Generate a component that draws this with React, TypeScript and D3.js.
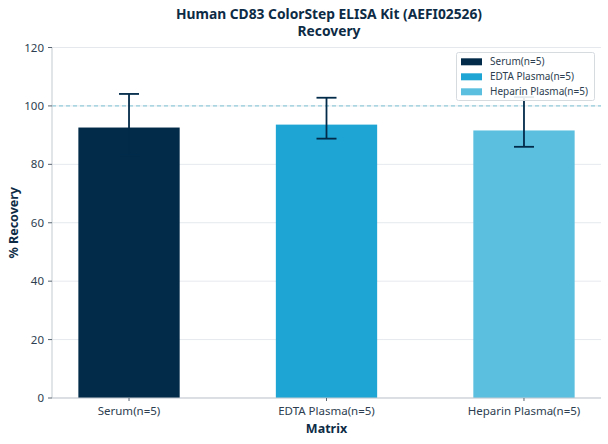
import React from "react";
import * as d3 from "d3";

const categories = ["Serum(n=5)", "EDTA Plasma(n=5)", "Heparin Plasma(n=5)"];
const means = [92.6, 93.6, 91.6];
const errLow = [83.0, 88.8, 86.0];
const errHigh = [104.1, 102.8, 103.0];
const colors = ["#022b4a", "#1fa5d3", "#5bbfe0"];
const yTicks = [0, 20, 40, 60, 80, 100, 120];

const W = 608;
const H = 444;
const M = { left: 52, right: 7, top: 47.5, bottom: 46 };

export default function App() {
  const x = d3.scaleLinear().domain([-0.39, 2.39]).range([M.left, W - M.right]);
  const y = d3.scaleLinear().domain([0, 120]).range([H - M.bottom, M.top]);
  const barW = x(0.513) - x(0);
  const capW = 20;
  const font = "'Noto Sans', 'Open Sans', sans-serif";
  const textColor = "#2d3e50";
  const navy = "#022b4a";

  return (
    <svg width={W} height={H} style={{ position: "absolute", left: 0, top: 0 }} fontFamily={font}>
      <rect x={0} y={0} width={W} height={H} fill="#fff" />
      {/* grid */}
      {yTicks.map((t) => (
        <line key={"g" + t} x1={M.left} x2={W - M.right} y1={y(t)} y2={y(t)} stroke="#e5e9ed" strokeWidth={1} />
      ))}
      {/* bars */}
      {categories.map((c, i) => (
        <rect key={c} x={x(i) - barW / 2} y={y(means[i])} width={barW} height={y(0) - y(means[i])} fill={colors[i]} />
      ))}
      {/* reference line */}
      <line x1={M.left} x2={W - M.right} y1={y(100)} y2={y(100)} stroke="#7cc3d3" strokeWidth={1} strokeDasharray="4,3" />
      {/* error bars */}
      {categories.map((c, i) => (
        <g key={"e" + c} stroke={navy} strokeWidth={1.8}>
          <line x1={x(i)} x2={x(i)} y1={y(errLow[i])} y2={y(errHigh[i])} />
          <line x1={x(i) - capW / 2} x2={x(i) + capW / 2} y1={y(errLow[i])} y2={y(errLow[i])} />
          <line x1={x(i) - capW / 2} x2={x(i) + capW / 2} y1={y(errHigh[i])} y2={y(errHigh[i])} />
        </g>
      ))}
      {/* axes */}
      <line x1={M.left} x2={M.left} y1={M.top} y2={y(0)} stroke="#c5cbd1" strokeWidth={1} />
      <line x1={M.left} x2={W - M.right} y1={y(0)} y2={y(0)} stroke="#c5cbd1" strokeWidth={1} />
      {yTicks.map((t) => (
        <g key={"t" + t}>
          <line x1={M.left - 4} x2={M.left} y1={y(t)} y2={y(t)} stroke="#5a6672" strokeWidth={1} />
          <text x={M.left - 8} y={y(t)} dy="0.35em" textAnchor="end" fontSize={11.5} fill={textColor}>
            {t}
          </text>
        </g>
      ))}
      {categories.map((c, i) => (
        <g key={"x" + c}>
          <line x1={x(i)} x2={x(i)} y1={y(0)} y2={y(0) + 3} stroke="#5a6672" strokeWidth={1} />
          <text x={x(i)} y={y(0) + 17} textAnchor="middle" fontSize={11.5} fill={textColor}>
            {c}
          </text>
        </g>
      ))}
      {/* axis titles */}
      <text x={(M.left + W - M.right) / 2} y={433} textAnchor="middle" fontSize={12.5} fontWeight="bold" fill="#0d2b45">
        Matrix
      </text>
      <text transform={`translate(18,${(M.top + y(0)) / 2}) rotate(-90)`} textAnchor="middle" fontSize={12.5} fontWeight="bold" fill="#0d2b45">
        % Recovery
      </text>
      {/* title */}
      <text x={329} y={19} textAnchor="middle" fontSize={13.8} fontWeight="bold" fill="#0d2b45">
        Human CD83 ColorStep ELISA Kit (AEFI02526)
      </text>
      <text x={329} y={35.5} textAnchor="middle" fontSize={13.8} fontWeight="bold" fill="#0d2b45">
        Recovery
      </text>
      {/* legend */}
      <g>
        <rect x={456.5} y={52.5} width={138} height={48} rx={2} fill="#fff" fillOpacity={0.9} stroke="#d6dbe0" strokeWidth={1} />
        {categories.map((c, i) => (
          <g key={"l" + c}>
            <rect x={461} y={58.3 + i * 15} width={21} height={7} fill={colors[i]} />
            <text x={490} y={61.8 + i * 15} dy="0.35em" fontSize={10} fill={textColor}>
              {c}
            </text>
          </g>
        ))}
      </g>
    </svg>
  );
}
